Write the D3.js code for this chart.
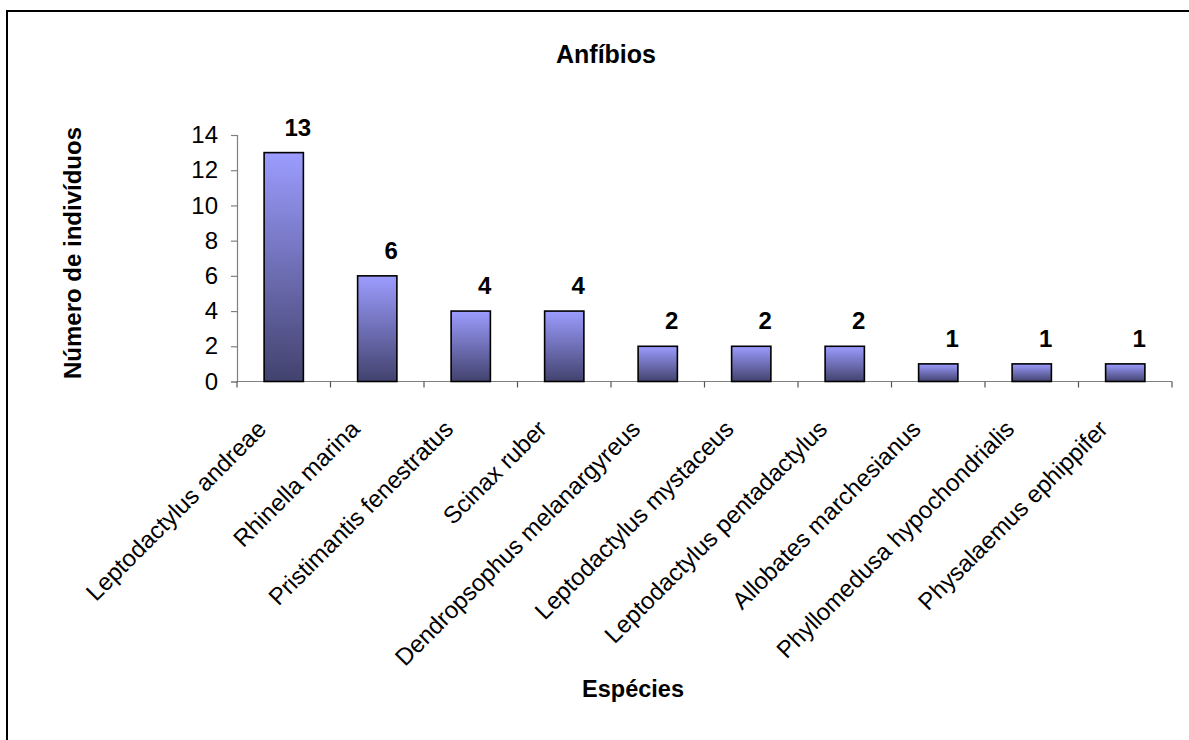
<!DOCTYPE html>
<html>
<head>
<meta charset="utf-8">
<script src="https://cdn.jsdelivr.net/npm/d3@7"></script>
<style>
  html, body { margin: 0; padding: 0; background: #fff; }
  svg { display: block; font-family: Arial, "Liberation Sans", sans-serif; }
</style>
</head>
<body>
<svg id="chart" width="1189" height="740"></svg>
<script>
// Species counts (amphibians)
const species = [
  "Leptodactylus andreae",
  "Rhinella marina",
  "Pristimantis fenestratus",
  "Scinax ruber",
  "Dendropsophus melanargyreus",
  "Leptodactylus mystaceus",
  "Leptodactylus pentadactylus",
  "Allobates marchesianus",
  "Phyllomedusa hypochondrialis",
  "Physalaemus ephippifer"
];
const counts = [13, 6, 4, 4, 2, 2, 2, 1, 1, 1];
const yTicks = [0, 2, 4, 6, 8, 10, 12, 14];

const svg = d3.select("#chart");
const W = 1189, H = 740;

// outer frame
svg.append("rect")
  .attr("x", 7).attr("y", 11)
  .attr("width", W + 20).attr("height", H + 20)
  .attr("fill", "none").attr("stroke", "#000").attr("stroke-width", 2);

const plot = { left: 237, right: 1172, top: 135, bottom: 381.5 };

const x = d3.scaleBand().domain(species).range([plot.left, plot.right]).paddingInner(0).paddingOuter(0);
const y = d3.scaleLinear().domain([0, 14]).range([plot.bottom, plot.top]);

// bar gradient: light at top, dark at bottom
const defs = svg.append("defs");
const grad = defs.append("linearGradient")
  .attr("id", "barGrad").attr("x1", 0).attr("y1", 0).attr("x2", 0).attr("y2", 1);
grad.append("stop").attr("offset", "0%").attr("stop-color", "#9c9cff");
grad.append("stop").attr("offset", "100%").attr("stop-color", "#42426e");

// y axis
const yAxis = svg.append("g")
  .attr("transform", `translate(${plot.left},0)`)
  .call(d3.axisLeft(y).tickValues(yTicks).tickSize(6).tickPadding(13).tickFormat(d3.format("d")));
yAxis.select(".domain").attr("stroke", "#808080").attr("stroke-width", 1.2);
yAxis.selectAll(".tick line").attr("stroke", "#808080").attr("stroke-width", 1.2);
yAxis.selectAll(".tick text").attr("fill", "#000").attr("font-size", 24)
  .attr("font-family", "Arial, 'Liberation Sans', sans-serif");

// x axis line with ticks at band boundaries
const xAxisG = svg.append("g");
xAxisG.append("line")
  .attr("x1", plot.left).attr("x2", plot.right)
  .attr("y1", plot.bottom).attr("y2", plot.bottom)
  .attr("stroke", "#808080").attr("stroke-width", 1.2);
const boundaries = species.map(s => x(s)).concat([x(species[species.length - 1]) + x.bandwidth()]);
xAxisG.selectAll("line.tk").data(boundaries).join("line")
  .attr("class", "tk")
  .attr("x1", d => d).attr("x2", d => d)
  .attr("y1", plot.bottom).attr("y2", plot.bottom + 6)
  .attr("stroke", "#555").attr("stroke-width", 1.2);

// bars
const barW = x.bandwidth() * 0.42;
svg.selectAll("rect.bar").data(counts).join("rect")
  .attr("class", "bar")
  .attr("x", (d, i) => x(species[i]) + (x.bandwidth() - barW) / 2)
  .attr("y", d => y(d))
  .attr("width", barW)
  .attr("height", d => y(0) - y(d))
  .attr("fill", "url(#barGrad)")
  .attr("stroke", "#000").attr("stroke-width", 1.6);

// value labels
svg.selectAll("text.val").data(counts).join("text")
  .attr("class", "val")
  .attr("x", (d, i) => x(species[i]) + x.bandwidth() / 2 + 14)
  .attr("y", d => y(d) - 17)
  .attr("text-anchor", "middle")
  .attr("font-weight", "bold").attr("font-size", 24)
  .text(d => d);

// category labels, rotated 45°
svg.selectAll("text.cat").data(species).join("text")
  .attr("class", "cat")
  .attr("transform", d => `translate(${x(d) + x.bandwidth() / 2 - 16},${plot.bottom + 49}) rotate(-45)`)
  .attr("text-anchor", "end")
  .attr("font-size", 24)
  .text(d => d);

// chart title
svg.append("text")
  .attr("x", 606).attr("y", 63)
  .attr("text-anchor", "middle")
  .attr("font-weight", "bold").attr("font-size", 25)
  .text("Anfíbios");

// axis titles
svg.append("text")
  .attr("x", 633).attr("y", 697)
  .attr("text-anchor", "middle")
  .attr("font-weight", "bold").attr("font-size", 23.5)
  .text("Espécies");

svg.append("text")
  .attr("transform", "translate(81,253) rotate(-90)")
  .attr("text-anchor", "middle")
  .attr("font-weight", "bold").attr("font-size", 24)
  .text("Número de indivíduos");
</script>
</body>
</html>
